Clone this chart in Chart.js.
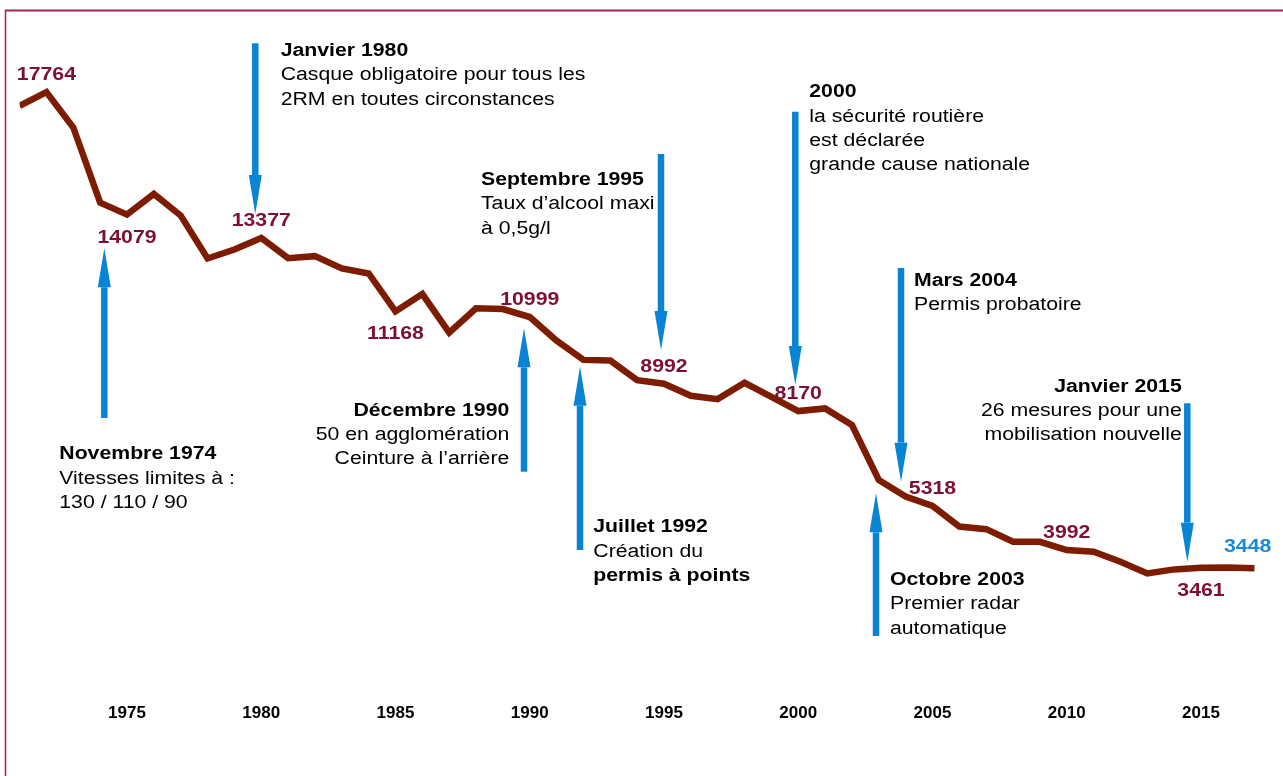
<!DOCTYPE html>
<html><head><meta charset="utf-8">
<script src="https://cdn.jsdelivr.net/npm/chart.js@4.4.1/dist/chart.umd.min.js"></script>
<style>html,body{margin:0;padding:0;background:#fff;overflow:hidden}canvas{display:block}</style>
</head><body>
<canvas id="c" width="1283" height="776"></canvas>
<script>
// ---- data ----
const years = [1971,1972,1973,1974,1975,1976,1977,1978,1979,1980,1981,1982,1983,1984,1985,1986,1987,1988,1989,1990,1991,1992,1993,1994,1995,1996,1997,1998,1999,2000,2001,2002,2003,2004,2005,2006,2007,2008,2009,2010,2011,2012,2013,2014,2015,2016,2017];
const deaths = [17350,17764,16700,14440,14079,14700,14050,12760,13030,13377,12770,12830,12460,12310,11168,11690,10530,11260,11240,10999,10290,9710,9690,9100,8992,8630,8530,9020,8600,8170,8250,7750,6100,5600,5318,4700,4620,4240,4240,3992,3940,3640,3290,3410,3461,3470,3448];
const tickYears = [1975,1980,1985,1990,1995,2000,2005,2010,2015];
const labelYears = [1972,1975,1980,1985,1990,1995,2000,2005,2010,2015,2017];
const labelBelowYears = [1975,1985,2015];
const highlightYear = 2017;

// ---- annotations (data units: year, number of deaths) ----
const arrowYear = [1974.155,1979.778,1989.786,1991.872,1994.888,1999.890,2003.827,2002.896,2014.490];
const arrowFrom = [7962,19230,6348,3993,15901,17173,12473,1407,8405];
const arrowTo   = [13065,14097,10660,9505,10007,8955,6047,5698,3641];

const noteYear  = [1972.479,1980.724,1989.238,1992.367,1988.184,2000.412,2004.311,2003.417,2014.281];
const noteValue = [6721,18848,8032,4525,14969,17606,11932,2941,8753];
const noteAlign = ['left','left','right','left','left','left','left','left','right'];
const noteLines = [
  ['Novembre 1974','Vitesses limites à :','130 / 110 / 90'],
  ['Janvier 1980','Casque obligatoire pour tous les','2RM en toutes circonstances'],
  ['Décembre 1990','50 en agglomération','Ceinture à l’arrière'],
  ['Juillet 1992','Création du','permis à points'],
  ['Septembre 1995','Taux d’alcool maxi','à 0,5g/l'],
  ['2000','la sécurité routière','est déclarée','grande cause nationale'],
  ['Mars 2004','Permis probatoire'],
  ['Octobre 2003','Premier radar','automatique'],
  ['Janvier 2015','26 mesures pour une','mobilisation nouvelle']
];
const noteBold = [[1,0,0],[1,0,0],[1,0,0],[1,0,1],[1,0,0],[1,0,0,0],[1,0],[1,0,0],[1,0,0]];

// ---- styles ----
const FONT = '"Liberation Sans", Arial, sans-serif';
const LINE_COLOR = '#7E1C02';
const LABEL_COLOR = '#7D0F30';
const BLUE = '#0984D5';
const LABEL_BLUE = '#1A8BD6';
const STRETCH = 1.18;

function stretchedText(ctx, text, x, y, align, sx) {
  ctx.save();
  ctx.translate(x, y);
  ctx.scale(sx, 1);
  ctx.textAlign = align;
  ctx.fillText(text, 0, 0);
  ctx.restore();
}

const annotations = {
  id: 'annotations',
  beforeDatasetsDraw(chart) {
    const ctx = chart.ctx, xs = chart.scales.x, ys = chart.scales.y;
    ctx.save();
    ctx.fillStyle = BLUE;
    for (let i = 0; i < arrowYear.length; i++) {
      const x = xs.getPixelForValue(arrowYear[i]);
      const y0 = ys.getPixelForValue(arrowFrom[i]);
      const y1 = ys.getPixelForValue(arrowTo[i]);
      const dir = y1 > y0 ? 1 : -1;
      const headLen = 39, headW = 13, shaftW = 6.5;
      const yb = y1 - dir * headLen;
      ctx.fillRect(x - shaftW / 2, Math.min(y0, yb), shaftW, Math.abs(yb - y0));
      ctx.beginPath();
      ctx.moveTo(x - headW / 2, yb);
      ctx.lineTo(x + headW / 2, yb);
      ctx.lineTo(x, y1);
      ctx.closePath();
      ctx.fill();
    }
    ctx.restore();
  },
  afterDatasetsDraw(chart) {
    const ctx = chart.ctx, xs = chart.scales.x, ys = chart.scales.y;
    ctx.save();
    ctx.textBaseline = 'alphabetic';
    ctx.fillStyle = '#000';
    for (let i = 0; i < noteYear.length; i++) {
      const x = xs.getPixelForValue(noteYear[i]);
      const y = ys.getPixelForValue(noteValue[i]);
      noteLines[i].forEach((t, j) => {
        ctx.font = (noteBold[i][j] ? 'bold ' : '') + '18px ' + FONT;
        stretchedText(ctx, t, x, y + j * 24.3, noteAlign[i], STRETCH);
      });
    }
    ctx.font = 'bold 19px ' + FONT;
    const meta = chart.getDatasetMeta(0);
    labelYears.forEach(yr => {
      const idx = years.indexOf(yr);
      const pt = meta.data[idx];
      const below = labelBelowYears.includes(yr);
      let x = pt.x, y = below ? pt.y + 28 : pt.y - 12;
      if (yr === highlightYear) { ctx.fillStyle = LABEL_BLUE; x = pt.x - 7; y = pt.y - 16; }
      else ctx.fillStyle = LABEL_COLOR;
      stretchedText(ctx, String(deaths[idx]), x, y, 'center', 1.12);
    });
    ctx.restore();
  },
  afterDraw(chart) {
    const ctx = chart.ctx;
    ctx.save();
    ctx.strokeStyle = '#A3224A';
    ctx.lineWidth = 2;
    ctx.beginPath(); ctx.moveTo(5, 10.5); ctx.lineTo(1283, 10.5); ctx.stroke();
    ctx.lineWidth = 1.5;
    ctx.beginPath(); ctx.moveTo(5.5, 10); ctx.lineTo(5.5, 776); ctx.stroke();
    ctx.restore();
  }
};

new Chart(document.getElementById('c'), {
  type: 'line',
  data: {
    datasets: [{
      data: years.map((y, i) => ({ x: y, y: deaths[i] })),
      borderColor: LINE_COLOR,
      borderWidth: 6.5,
      borderJoinStyle: 'miter',
      borderCapStyle: 'butt',
      fill: false,
      pointRadius: 0,
      tension: 0
    }]
  },
  options: {
    responsive: false,
    animation: false,
    events: [],
    layout: { padding: { left: 19.6, right: 28.3, top: 17.7, bottom: 31.6 } },
    plugins: { legend: { display: false }, tooltip: { enabled: false } },
    scales: {
      x: {
        type: 'linear', min: 1971, max: 2017,
        grid: { display: false, drawTicks: false },
        border: { display: false },
        afterBuildTicks: s => { s.ticks = tickYears.map(v => ({ value: v })); },
        ticks: {
          padding: 20.6, color: '#000', autoSkip: false, maxRotation: 0,
          font: { family: FONT, size: 17, weight: 'bold' },
          callback: v => String(v)
        }
      },
      y: { display: false, min: 0, max: 20000 }
    }
  },
  plugins: [annotations]
});
</script>
</body></html>
